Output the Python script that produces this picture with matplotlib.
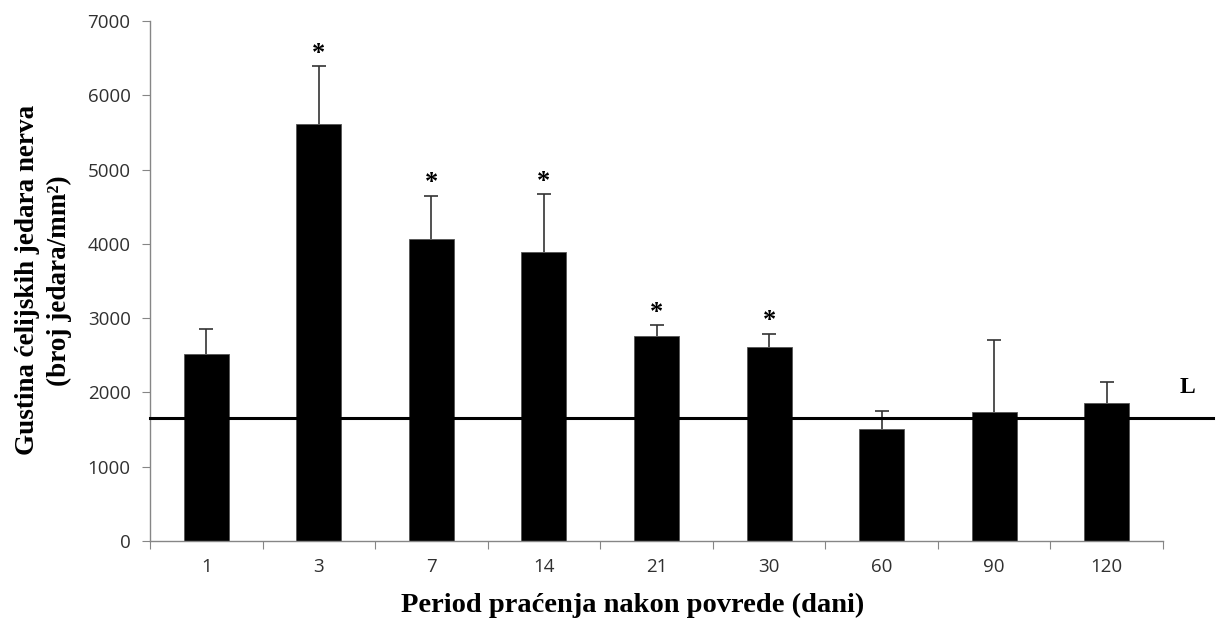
import matplotlib.pyplot as plt
import matplotlib.transforms as mtransforms

days = ['1', '3', '7', '14', '21', '30', '60', '90', '120']
means = [2520, 5610, 4070, 3890, 2765, 2610, 1510, 1735, 1860]
err_top = [2850, 6390, 4650, 4665, 2905, 2790, 1750, 2710, 2140]
signif = [False, True, True, True, True, True, False, False, False]
level_L = 1650

x = list(range(len(days)))

fig = plt.figure(figsize=(12.16, 6.23), dpi=100)
ax = fig.add_axes([0.1234, 0.1316, 0.8330, 0.8347])

ax.bar(x, means, width=0.4, color='black', edgecolor='#555555', linewidth=0.6, zorder=2)
# upper error bars only
ax.vlines(x, means, err_top, color='#333333', lw=1.2, zorder=3)
ax.plot(x, err_top, ls='none', marker='_', ms=10, mew=1.2, color='#333333', zorder=3)

for xi, top, s in zip(x, err_top, signif):
    if s:
        ax.text(xi, top + 20, '*', ha='center', va='bottom', fontsize=19,
                fontweight='bold', family='Liberation Serif')

# reference line L (runs past the plot area)
trans = mtransforms.blended_transform_factory(ax.transAxes, ax.transData)
ax.plot([0, 1.049], [level_L, level_L], color='black', lw=2.2, transform=trans,
        clip_on=False, zorder=4)
ax.text(1.016, level_L + 280, 'L', transform=trans, ha='left', va='bottom',
        fontsize=17, fontweight='bold', family='Liberation Serif')

ax.set_xlim(-0.5, len(days) - 0.5)
ax.set_ylim(0, 7000)
ax.set_yticks(range(0, 7001, 1000))
ax.set_xticks([i - 0.5 for i in range(len(days) + 1)])
ax.set_xticklabels([])
ax.set_xticks(x, minor=True)
ax.set_xticklabels(days, minor=True)
ax.tick_params(axis='x', which='major', length=6, color='#868686', direction='out')
ax.tick_params(axis='x', which='minor', length=0, pad=12)
ax.tick_params(axis='y', length=6, color='#868686', direction='out', pad=8)
for lab in ax.get_xticklabels(minor=True) + ax.get_yticklabels():
    lab.set_family('Open Sans')
    lab.set_fontsize(13.5)
    lab.set_color('#303030')

for side in ['top', 'right']:
    ax.spines[side].set_visible(False)
for side in ['left', 'bottom']:
    ax.spines[side].set_color('#868686')
    ax.spines[side].set_linewidth(1.0)

fig.text(0.52, 0.029, 'Period praćenja nakon povrede (dani)', ha='center', va='center',
         fontsize=20.5, fontweight='bold', family='Liberation Serif')
fig.text(0.036, 0.55, 'Gustina ćelijskih jedara nerva\n(broj jedara/mm²)',
         ha='center', va='center', rotation=90, fontsize=19.5, fontweight='bold',
         family='Liberation Serif', linespacing=1.35)

fig.savefig('out.png', dpi=100)
